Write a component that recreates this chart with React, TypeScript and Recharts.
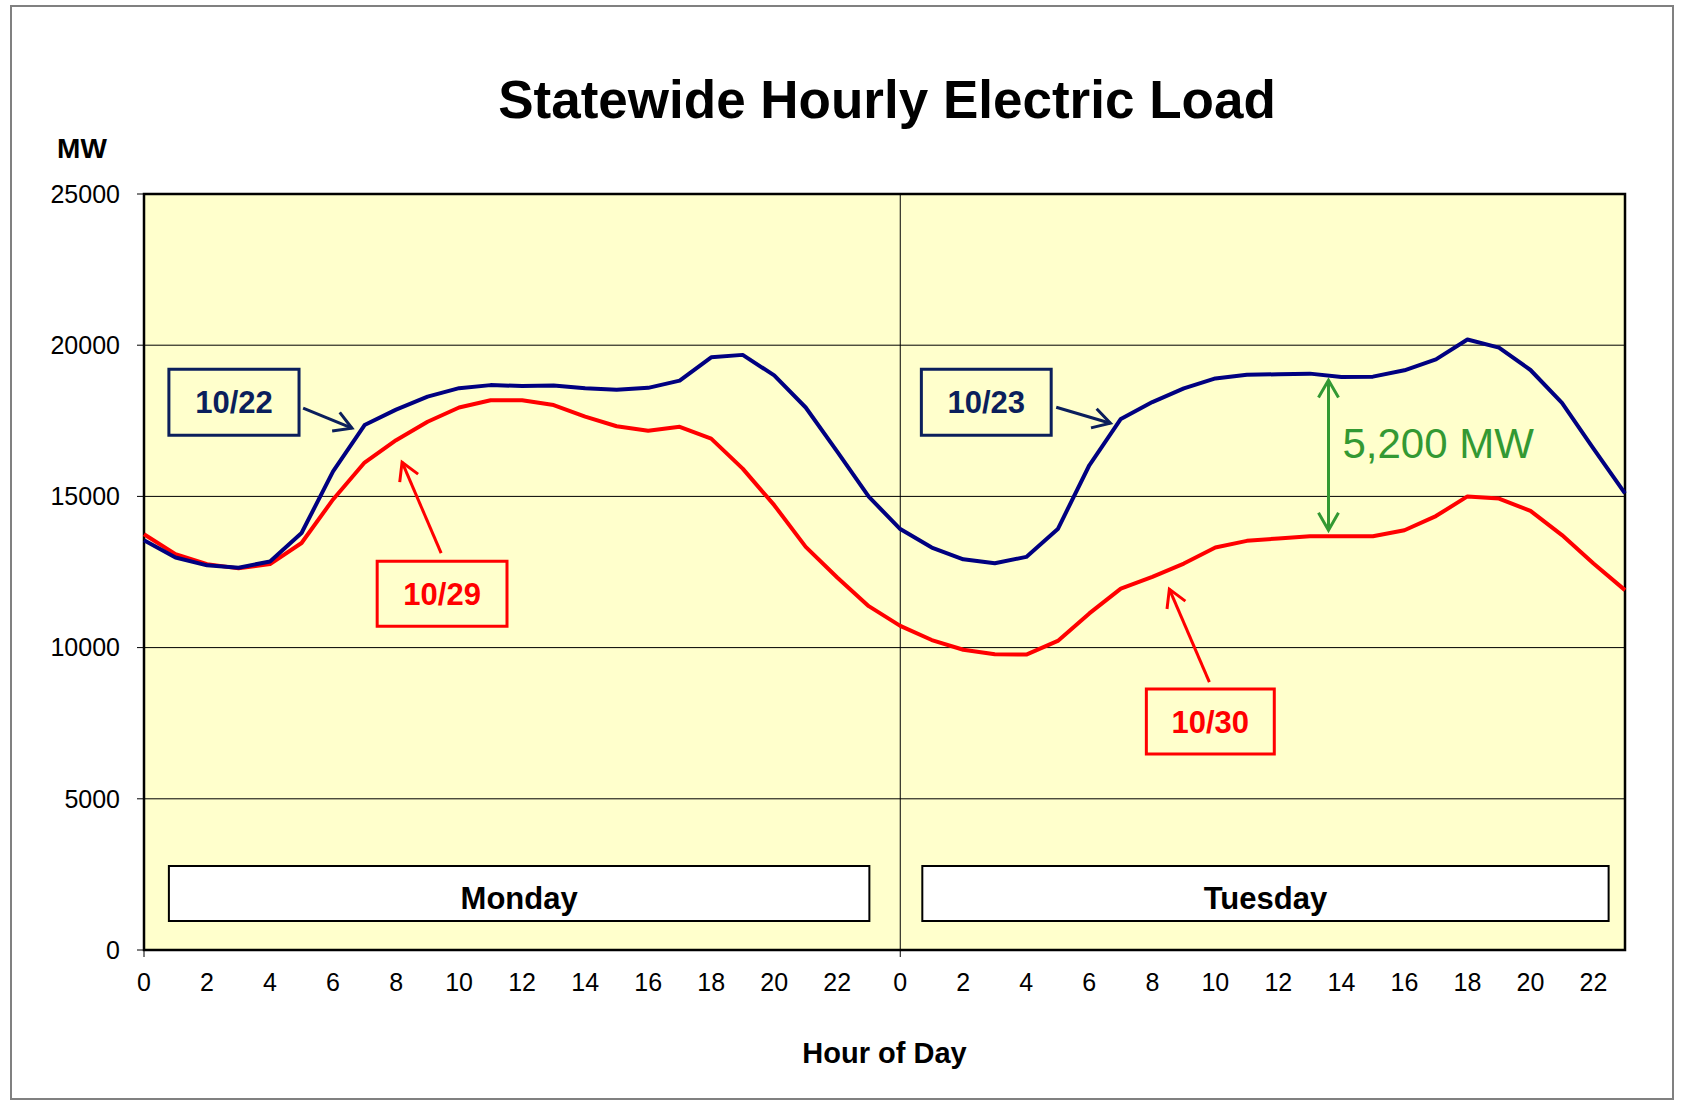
import React from 'react';
import {
  LineChart,
  Line,
  XAxis,
  YAxis,
  CartesianGrid,
  ReferenceArea,
  ReferenceLine
} from 'recharts';

// hourly load, MW
const HOURS = Array.from({ length: 24 }, (_, h) => h);
const load1022 = [13550, 12980, 12720, 12640, 12850, 13790, 15830, 17360, 17870, 18300, 18580, 18680, 18650, 18670, 18580, 18530, 18590, 18830, 19600, 19680, 19000, 17940, 16480, 14990];
const load1023 = [13920, 13310, 12920, 12790, 13000, 13920, 16030, 17560, 18120, 18570, 18900, 19020, 19040, 19060, 18950, 18960, 19170, 19530, 20190, 19920, 19180, 18090, 16580, 15100];
const load1029 = [13750, 13090, 12760, 12620, 12760, 13460, 14900, 16120, 16860, 17470, 17940, 18180, 18180, 18020, 17640, 17320, 17170, 17300, 16910, 15920, 14710, 13330, 12320, 11370];
const load1030 = [10720, 10250, 9930, 9780, 9770, 10220, 11130, 11950, 12340, 12780, 13310, 13530, 13610, 13680, 13680, 13680, 13880, 14350, 15000, 14930, 14520, 13720, 12780, 11900];

const Y_TICKS = [0, 5000, 10000, 15000, 20000, 25000];
const X_TICKS = Array.from({ length: 24 }, (_, i) => i * 2);
const DAYS = ['Monday', 'Tuesday'];

const data = [...HOURS, ...HOURS].map((h, i) => ({
  idx: i,
  hour: h,
  recent: i < 24 ? load1022[h] : load1023[h],
  prior: i < 24 ? load1029[h] : load1030[h]
}));

const FONT = '"Liberation Sans", Arial, Helvetica, sans-serif';
const NAVY = '#000080';
const BOX_NAVY = '#0B1F5C';
const RED = '#FF0000';
const GREEN = '#339933';

// open arrow head(s) drawn by the reference line shape
const arrowShape = (color: string, both = false, text?: string) => (props: any) => {
  const { x1, y1, x2, y2 } = props;
  const ang = Math.atan2(y2 - y1, x2 - x1);
  const len = 20;
  const spread = Math.PI / 6;
  const head = (x: number, y: number, a: number) => (
    <polyline
      points={`${x - len * Math.cos(a - spread)},${y - len * Math.sin(a - spread)} ${x},${y} ${x - len * Math.cos(a + spread)},${y - len * Math.sin(a + spread)}`}
      fill="none"
      stroke={color}
      strokeWidth={3}
    />
  );
  return (
    <g>
      <line x1={x1} y1={y1} x2={x2} y2={y2} stroke={color} strokeWidth={3} />
      {head(x2, y2, ang)}
      {both && head(x1, y1, ang + Math.PI)}
      {text && (
        <text x={x1 + 14} y={(y1 + y2) / 2 + 3} fill={color} fontSize={42} fontFamily={FONT}>
          {text}
        </text>
      )}
    </g>
  );
};

const HourTick = ({ x, y, payload }: any) => (
  <g>
    {payload.value % 24 === 0 && (
      <line x1={x} x2={x} y1={y - 23} y2={y - 16} stroke="#000" strokeWidth={1} />
    )}
    <text x={x} y={y} dy="0.71em" textAnchor="middle" fontSize={25} fontFamily={FONT} fill="#000">
      {payload.value % 24}
    </text>
  </g>
);

const boxLabel = (value: string, color: string, size = 31) => ({
  value,
  position: 'center' as const,
  fill: color,
  fontSize: size,
  fontWeight: 'bold',
  fontFamily: FONT
});

const dayLabel = (value: string) => ({
  value,
  position: 'insideBottom' as const,
  offset: 12,
  fill: '#000',
  fontSize: 31,
  fontWeight: 'bold',
  fontFamily: FONT
});

export default function App() {
  return (
    <div style={{ position: 'absolute', left: 0, top: 0, width: 1681, height: 1100, background: '#fff', fontFamily: FONT }}>
      <div style={{ position: 'absolute', left: 10, top: 5, width: 1660, height: 1091, border: '2px solid #808080' }} />
      <LineChart
        width={1681}
        height={1100}
        data={data}
        margin={{ top: 194, right: 56, bottom: 30, left: 64 }}
      >
        <CartesianGrid vertical={false} stroke="#000" fill="#FFFFCC" fillOpacity={1} />
        <XAxis
          type="number"
          dataKey="idx"
          domain={[0, 47]}
          ticks={X_TICKS}
          interval={0}
          height={120}
          tickSize={7}
          tickMargin={16}
          tickLine={false}
          axisLine={false}
          tick={<HourTick />}
          label={{ value: 'Hour of Day', position: 'insideBottom', offset: 7, fill: '#000', fontSize: 29, fontWeight: 'bold', fontFamily: FONT }}
        />
        <YAxis
          width={80}
          domain={[0, 25000]}
          ticks={Y_TICKS}
          interval={0}
          tickSize={7}
          tickMargin={17}
          axisLine={false}
          tickLine={{ stroke: '#000' }}
          tick={{ fill: '#000', fontSize: 25, fontFamily: FONT }}
        />
        <ReferenceLine x={24} stroke="#000" strokeWidth={1} />
        <ReferenceArea x1={0} x2={47} y1={0} y2={25000} fill="none" stroke="#000" strokeWidth={2.5} />

        {/* day boxes */}
        <ReferenceArea x1={0.79} x2={23.02} y1={959} y2={2777} fill="#fff" fillOpacity={1} stroke="#000" strokeWidth={2} label={dayLabel(DAYS[0])} />
        <ReferenceArea x1={24.7} x2={46.48} y1={959} y2={2777} fill="#fff" fillOpacity={1} stroke="#000" strokeWidth={2} label={dayLabel(DAYS[1])} />

        {/* date call-outs */}
        <ReferenceArea x1={0.79} x2={4.92} y1={17023} y2={19205} fill="#FFFFCC" fillOpacity={1} stroke={BOX_NAVY} strokeWidth={3} label={boxLabel('10/22', BOX_NAVY)} />
        <ReferenceArea x1={24.67} x2={28.79} y1={17023} y2={19205} fill="#FFFFCC" fillOpacity={1} stroke={BOX_NAVY} strokeWidth={3} label={boxLabel('10/23', BOX_NAVY)} />
        <ReferenceArea x1={7.4} x2={11.52} y1={10710} y2={12858} fill="#FFFFCC" fillOpacity={1} stroke={RED} strokeWidth={3} label={boxLabel('10/29', RED)} />
        <ReferenceArea x1={31.81} x2={35.87} y1={6479} y2={8627} fill="#FFFFCC" fillOpacity={1} stroke={RED} strokeWidth={3} label={boxLabel('10/30', RED)} />

        <ReferenceLine segment={[{ x: 5.05, y: 17916 }, { x: 6.6, y: 17255 }]} shape={arrowShape(BOX_NAVY)} />
        <ReferenceLine segment={[{ x: 28.95, y: 17949 }, { x: 30.67, y: 17420 }]} shape={arrowShape(BOX_NAVY)} />
        <ReferenceLine segment={[{ x: 9.43, y: 13123 }, { x: 8.19, y: 16131 }]} shape={arrowShape(RED)} />
        <ReferenceLine segment={[{ x: 33.81, y: 8859 }, { x: 32.54, y: 11933 }]} shape={arrowShape(RED)} />
        <ReferenceLine segment={[{ x: 37.59, y: 13883 }, { x: 37.59, y: 18841 }]} shape={arrowShape(GREEN, true, '5,200 MW')} />

        <Line type="linear" dataKey="prior" stroke={RED} strokeWidth={4} dot={false} isAnimationActive={false} strokeLinejoin="round" />
        <Line type="linear" dataKey="recent" stroke={NAVY} strokeWidth={4} dot={false} isAnimationActive={false} strokeLinejoin="round" />
      </LineChart>
      <svg width={1681} height={1100} style={{ position: 'absolute', left: 0, top: 0, pointerEvents: 'none' }}>
        <text x={887} y={118} textAnchor="middle" fontSize={53} fontWeight="bold" fontFamily={FONT} fill="#000">
          Statewide Hourly Electric Load
        </text>
        <text x={82} y={158} textAnchor="middle" fontSize={28} fontWeight="bold" fontFamily={FONT} fill="#000">
          MW
        </text>
      </svg>
    </div>
  );
}
